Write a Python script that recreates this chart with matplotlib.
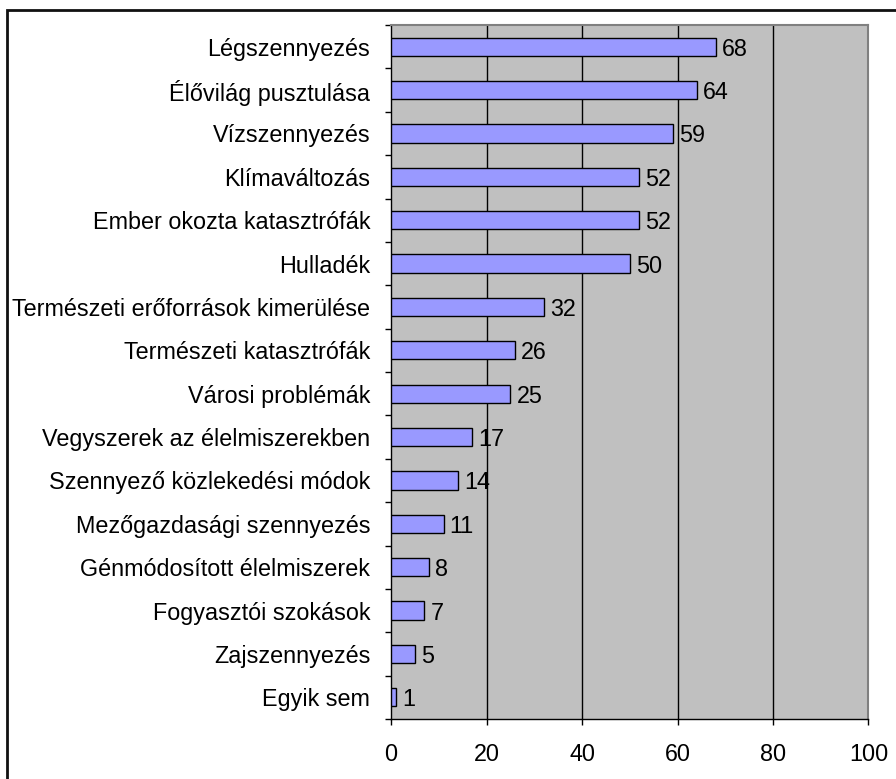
import matplotlib.pyplot as plt
import numpy as np
from matplotlib.patches import Rectangle

plt.rcParams['font.family'] = ['Liberation Sans', 'DejaVu Sans']

# categories top to bottom and their values
categories = ['Légszennyezés', 'Élővilág pusztulása', 'Vízszennyezés', 'Klímaváltozás',
              'Ember okozta katasztrófák', 'Hulladék', 'Természeti erőforrások kimerülése',
              'Természeti katasztrófák', 'Városi problémák', 'Vegyszerek az élelmiszerekben',
              'Szennyező közlekedési módok', 'Mezőgazdasági szennyezés',
              'Génmódosított élelmiszerek', 'Fogyasztói szokások', 'Zajszennyezés', 'Egyik sem']
values = [68, 64, 59, 52, 52, 50, 32, 26, 25, 17, 14, 11, 8, 7, 5, 1]
x_ticks = [0, 20, 40, 60, 80, 100]

fs = 16.8

fig = plt.figure(figsize=(8.96, 7.79), dpi=100)
ax = fig.add_axes([0.4364, 0.077, 0.5329, 0.8909])
ax.set_facecolor('#C0C0C0')

y = np.arange(len(categories))
ax.barh(y, values, height=0.42, color='#9999FF', edgecolor='black', linewidth=1.0, zorder=3)
for yi, v in zip(y, values):
    ax.text(v + 1.3, yi, str(v), va='center_baseline', ha='left', fontsize=fs, zorder=4)

ax.set_xlim(0, 100)
ax.set_ylim(len(categories) - 0.5, -0.5)
ax.set_xticks(x_ticks)
ax.set_yticks(y)
ax.set_yticklabels(categories)
ax.set_yticks(np.arange(len(categories) + 1) - 0.5, minor=True)
ax.tick_params(axis='y', which='major', length=0, pad=15, labelsize=fs)
ax.tick_params(axis='y', which='minor', length=4, width=1, direction='out')
ax.tick_params(axis='x', length=4, width=1, direction='out', pad=13, labelsize=fs)

for g in x_ticks[1:-1]:
    ax.axvline(g, color='black', linewidth=1.0, zorder=1)

for side in ['top', 'right']:
    ax.spines[side].set_color('#808080')
    ax.spines[side].set_linewidth(1.5)
for side in ['left', 'bottom']:
    ax.spines[side].set_color('black')
    ax.spines[side].set_linewidth(1.0)

# outer chart border
fig.patches.append(Rectangle((7 / 896, -0.05), 1.0, 1 - 10 / 779 + 0.05,
                             transform=fig.transFigure, fill=False,
                             edgecolor='#111111', linewidth=2.0))

fig.savefig('out.png', dpi=100)
